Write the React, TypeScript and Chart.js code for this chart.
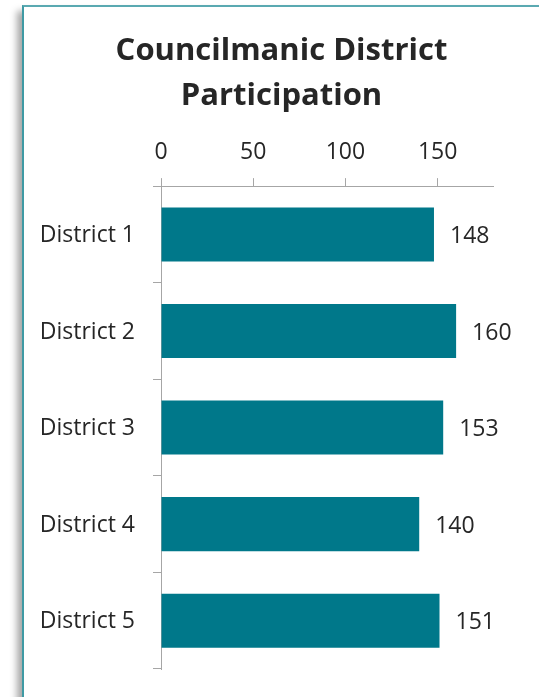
import React, { useEffect, useRef } from "react";
import { Chart, registerables } from "chart.js";

Chart.register(...registerables);

const categories = ["District 1", "District 2", "District 3", "District 4", "District 5"];
const participation = [148, 160, 153, 140, 151];
const titleLines = ["Councilmanic District", "Participation"];
const xTicks = [0, 50, 100, 150];
const xMax = 180;

const BAR_COLOR = "#00788a";
const TEXT_COLOR = "#262626";
const AXIS_COLOR = "#a6a6a6";
const FONT = "'Open Sans', 'Noto Sans', sans-serif";

const valueLabels = {
  id: "valueLabels",
  afterDatasetsDraw(chart: any) {
    const ctx = chart.ctx;
    const meta = chart.getDatasetMeta(0);
    ctx.save();
    ctx.font = `23px ${FONT}`;
    ctx.fillStyle = TEXT_COLOR;
    ctx.textAlign = "left";
    ctx.textBaseline = "middle";
    meta.data.forEach((bar: any, i: number) => {
      const v = chart.data.datasets[0].data[i];
      ctx.fillText(String(v), bar.x + 16, bar.y + 2);
    });
    ctx.restore();
  },
};

export default function App() {
  const ref = useRef<HTMLCanvasElement | null>(null);

  useEffect(() => {
    if (!ref.current) return;
    const chart = new Chart(ref.current, {
      type: "bar",
      data: {
        labels: categories,
        datasets: [
          {
            data: participation,
            backgroundColor: BAR_COLOR,
            borderWidth: 0,
            barPercentage: 0.56,
            categoryPercentage: 1,
          },
        ],
      },
      options: {
        indexAxis: "y",
        responsive: false,
        animation: false,
        layout: { padding: { left: 24, right: 0, top: 0, bottom: 28 } },
        plugins: {
          legend: { display: false },
          tooltip: { enabled: false },
          title: {
            display: true,
            text: titleLines,
            color: TEXT_COLOR,
            font: { family: FONT, size: 31, weight: "bold", lineHeight: 1.47 },
            padding: { top: 28, bottom: 0 },
          },
        },
        scales: {
          x: {
            position: "top",
            min: 0,
            max: xMax,
            afterBuildTicks: (scale: any) => {
              scale.ticks = xTicks.map((v) => ({ value: v }));
            },
            afterFit: (scale: any) => {
              scale.height = 67;
            },
            ticks: {
              autoSkip: false,
              color: TEXT_COLOR,
              font: { family: FONT, size: 23 },
              padding: 12,
            },
            grid: {
              drawOnChartArea: false,
              drawTicks: true,
              tickLength: 8,
              color: AXIS_COLOR,
            },
            border: { display: true, color: AXIS_COLOR, width: 1 },
          },
          y: {
            afterFit: (scale: any) => {
              scale.width = 137;
              scale.paddingTop = 0;
              scale.paddingBottom = 0;
            },
            ticks: {
              color: TEXT_COLOR,
              font: { family: FONT, size: 23 },
              padding: 18,
              labelOffset: 1,
            },
            grid: {
              drawOnChartArea: false,
              drawTicks: true,
              tickLength: 8,
              offset: true,
              color: AXIS_COLOR,
            },
            border: { display: true, color: AXIS_COLOR, width: 1 },
          },
          spacer: {
            type: "category",
            axis: "y",
            position: "right",
            display: true,
            afterFit: (scale: any) => {
              scale.width = 46;
              scale.paddingTop = 0;
              scale.paddingBottom = 0;
            },
            ticks: { display: false },
            grid: { display: false, drawTicks: false },
            border: { display: false },
          },
        },
      },
      plugins: [valueLabels],
    });
    return () => chart.destroy();
  }, []);

  return (
    <div
      style={{
        position: "fixed",
        left: 0,
        top: 0,
        width: 539,
        height: 697,
        overflow: "hidden",
        background: "#ffffff",
      }}
    >
      <div
        style={{
          position: "absolute",
          left: 22,
          top: 5,
          width: 620,
          height: 800,
          borderLeft: "2px solid #3f9aa4",
          borderTop: "2px solid #5aa9b1",
          boxShadow: "-5px 6px 7px rgba(0,0,0,0.35)",
          background: "#ffffff",
        }}
      />
      <canvas
        ref={ref}
        width={539}
        height={697}
        style={{ position: "absolute", left: 0, top: 0, width: 539, height: 697 }}
      />
    </div>
  );
}
